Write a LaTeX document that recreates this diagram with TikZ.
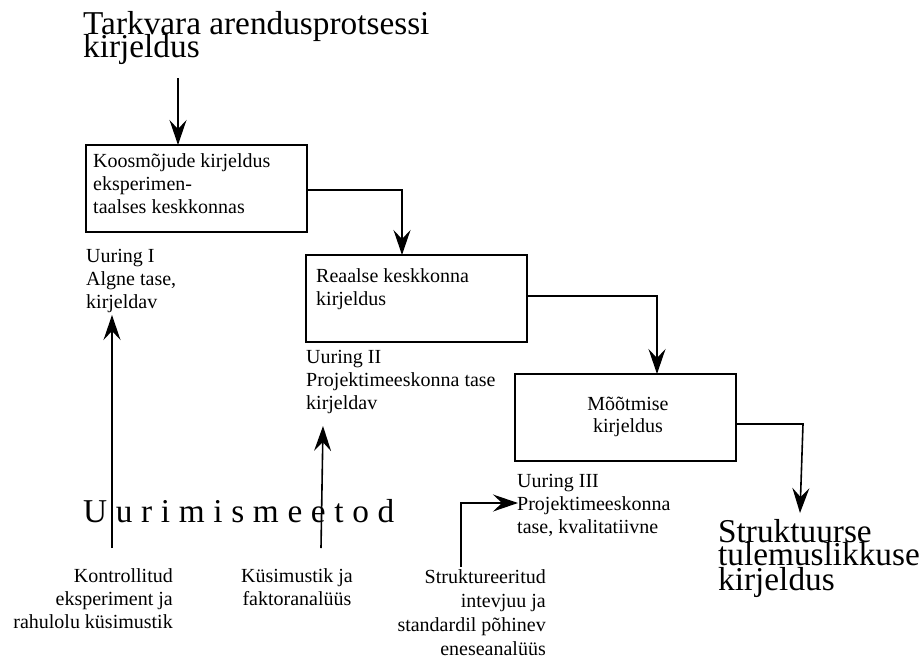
\documentclass[tikz,border=0pt]{standalone}
\usepackage{fontspec}
\setmainfont{Liberation Serif}
\newfontfamily\spacedfont[LetterSpace=26]{Liberation Serif}
\usetikzlibrary{arrows.meta,calc}

\begin{document}
\begin{tikzpicture}[x=1pt,y=-1pt,
  box/.style={draw, line width=1.4pt, minimum width=221pt, minimum height=87pt,
    anchor=north west, inner sep=0pt, outer sep=0pt},
  small/.style={inner sep=0pt, font=\fontsize{20}{23}\selectfont},
  big/.style={inner sep=0pt, font=\fontsize{33.3}{23}\selectfont, anchor=base west},
  arr/.style={line width=1.6pt, -{Stealth[length=25pt, width=17pt, inset=9pt]}},
]
\useasboundingbox (0,0) rectangle (924,662);

% heading and result text
\node[big] (title1) at (83,34) {Tarkvara arendusprotsessi};
\node[big] (title2) at (83,57) {kirjeldus};
\node[big] (res1) at (718,542) {Struktuurse};
\node[big] (res2) at (718,565) {tulemuslikkuse};
\node[big] (res3) at (718,590) {kirjeldus};

% the three description boxes
\node[box] (b1) at (86,145) {};
\node[box] (b2) at (306,255) {};
\node[box] (b3) at (515,374) {};

% multi-line nodes are placed by the baseline of their last line
\node[small, anchor=base west, align=left] (b1t) at (93,213)
  {Koosmõjude kirjeldus\\eksperimen-\\taalses keskkonnas};
\node[small, anchor=base west, align=left] (b2t) at (316,305)
  {Reaalse keskkonna\\kirjeldus};
\node[inner sep=0pt, font=\fontsize{20}{22}\selectfont, anchor=base, align=center]
  (b3t) at (628,432) {Mõõtmise\\kirjeldus};

% study labels
\node[small, anchor=base west, align=left] (u1) at (86,308)
  {Uuring I\\Algne tase,\\kirjeldav};
\node[small, anchor=base west, align=left] (u2) at (306,409)
  {Uuring II\\Projektimeeskonna tase\\kirjeldav};
\node[small, anchor=base west, align=left] (u3) at (517,533)
  {Uuring III\\Projektimeeskonna\\tase, kvalitatiivne};

% research methods
\node[inner sep=0pt, anchor=base west, font=\spacedfont\fontsize{33.3}{36}\selectfont]
  (meth) at (83,522) {Uurimismeetod};
\node[small, anchor=base east, align=right] (m1) at (173,628)
  {Kontrollitud\\eksperiment ja\\rahulolu küsimustik};
\node[small, anchor=base, align=center] (m2) at (297,605)
  {Küsimustik ja\\faktoranalüüs};
\node[inner sep=0pt, font=\fontsize{20}{23.7}\selectfont, anchor=base east, align=right]
  (m3) at (546,655)
  {Struktureeritud\\intevjuu ja\\standardil põhinev\\eneseanalüüs};

% flow between the boxes
\coordinate (t0) at (178,78);
\draw[arr] (t0) -- (t0 |- b1.north);
\draw[arr] ([yshift=-1.5pt]b1.east) -| ($(b2.north west)+(96,0)$);
\draw[arr] ([yshift=2.5pt]b2.east) -| ($(b3.north west)+(142,0)$);
\coordinate (c3) at (803,424);
\coordinate (c4) at (800,513);
\draw[arr] (b3.east |- c3) -- (c3) -- (c4);

% methods feeding the studies
\coordinate (a1) at (112,548);
\coordinate (a1e) at (112,315);
\draw[arr] (a1) -- (a1e);
\coordinate (a2) at (321,548);
\coordinate (a2e) at (323,426);
\draw[arr] (a2) -- (a2e);
\coordinate (a3) at (461,567);
\coordinate (a3e) at (518,503);
\draw[arr] (a3) |- (a3e);
\end{tikzpicture}
\end{document}
